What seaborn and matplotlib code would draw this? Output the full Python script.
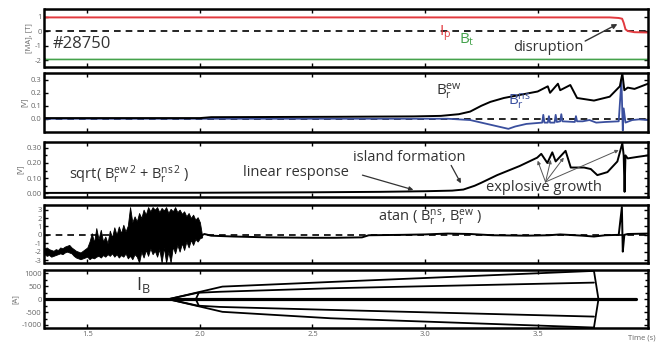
import matplotlib
matplotlib.use("Agg")
import matplotlib.pyplot as plt
import seaborn as sns
import pandas as pd
from matplotlib.ticker import MultipleLocator

# ---------------- data ----------------
ip_t = [1.31, 3.82, 3.86, 3.875, 3.882, 3.89, 3.90, 3.93, 3.99]
ip_v = [0.97, 0.97, 0.93, 0.88, 0.60, 0.15, 0.03, -0.05, -0.07]
bt_t = [1.31, 1.315, 3.99]
bt_v = [-1.85, -1.93, -1.93]

ew_t = [1.31, 2.00, 2.05, 2.60, 2.95, 3.07, 3.15, 3.20, 3.25, 3.29, 3.35, 3.41, 3.50,
        3.545, 3.555, 3.59, 3.60, 3.645, 3.675, 3.75, 3.82, 3.865, 3.876, 3.885,
        3.90, 3.93, 3.96, 3.99]
ew_v = [0.005, 0.005, 0.012, 0.015, 0.018, 0.022, 0.035, 0.055, 0.10, 0.13, 0.16, 0.18, 0.21,
        0.25, 0.20, 0.27, 0.22, 0.26, 0.16, 0.14, 0.17, 0.25, 0.35, 0.22,
        0.24, 0.23, 0.25, 0.27]
ns_t = [1.31, 3.10, 3.20, 3.30, 3.37, 3.40, 3.45, 3.52, 3.525, 3.53, 3.545, 3.55, 3.555,
        3.575, 3.58, 3.585, 3.60, 3.605, 3.61, 3.665, 3.67, 3.675, 3.70, 3.73, 3.76,
        3.80, 3.86, 3.872, 3.878, 3.882, 3.89, 3.92, 3.95, 3.99]
ns_v = [0.0, 0.0, -0.01, -0.05, -0.078, -0.06, -0.04, -0.03, 0.03, -0.03, -0.03, 0.02, -0.03,
        -0.03, 0.03, -0.025, -0.02, 0.035, -0.02, -0.025, 0.02, -0.02, -0.02, -0.01, -0.03,
        -0.025, -0.02, 0.30, -0.09, 0.08, -0.03, -0.01, -0.005, -0.01]

amp_t = [1.31, 2.00, 2.50, 2.80, 3.00, 3.12, 3.17, 3.22, 3.25, 3.32, 3.42, 3.498, 3.516,
         3.543, 3.565, 3.58, 3.624, 3.647, 3.706, 3.736, 3.765, 3.81, 3.854, 3.876,
         3.882, 3.886, 3.890, 3.90, 3.943, 3.99]
amp_v = [0.003, 0.004, 0.007, 0.010, 0.014, 0.018, 0.025, 0.05, 0.07, 0.12, 0.18, 0.235, 0.26,
         0.20, 0.27, 0.21, 0.28, 0.17, 0.17, 0.16, 0.12, 0.14, 0.21, 0.33,
         0.25, 0.01, 0.25, 0.23, 0.24, 0.25]

# noisy phase before 2.0 s: envelope (low / high) of the signal
ph_noise_t = [1.31, 1.32, 1.33, 1.34, 1.35, 1.36, 1.37, 1.38, 1.39, 1.40,
              1.41, 1.42, 1.43, 1.44, 1.45, 1.46, 1.47, 1.48, 1.49, 1.50,
              1.51, 1.52, 1.53, 1.54, 1.55, 1.56, 1.57, 1.58, 1.59, 1.60,
              1.61, 1.62, 1.63, 1.64, 1.65, 1.66, 1.67, 1.68, 1.69, 1.70,
              1.71, 1.72, 1.73, 1.74, 1.75, 1.76, 1.77, 1.78, 1.79, 1.80,
              1.81, 1.82, 1.83, 1.84, 1.85, 1.86, 1.87, 1.88, 1.89, 1.90,
              1.91, 1.92, 1.93, 1.94, 1.95, 1.96, 1.97, 1.98, 1.99, 2.00, 2.01]
ph_noise_lo = [-2.3, -2.5, -2.4, -2.6, -2.5, -2.4, -2.3, -2.2, -2.3, -2.1,
               -2.0, -2.1, -2.2, -2.5, -2.7, -2.8, -2.9, -2.8, -2.7, -2.6,
               -2.9, -2.7, -2.8, -2.6, -2.5, -2.7, -2.4, -2.6, -2.3, -2.5,
               -2.2, -2.6, -2.3, -2.7, -2.4, -2.6, -2.2, -2.8, -2.5, -2.9,
               -2.3, -2.6, -3.3, -2.0, -2.7, -1.8, -2.5, -1.6, -2.3, -1.9,
               -2.6, -1.7, -3.3, -1.5, -3.3, -2.0, -3.3, -1.4, -2.2, -1.2,
               -2.0, -1.0, -1.8, -0.8, -1.5, -0.6, -1.2, -0.5, -0.8, -0.4, -0.3]
ph_noise_hi = [-1.6, -1.5, -1.7, -1.8, -1.9, -1.7, -1.8, -1.5, -1.6, -1.4,
               -1.3, -1.2, -1.5, -1.7, -1.9, -2.0, -2.1, -1.9, -1.7, -1.5,
               -0.8, 0.2, -0.9, 0.8, -0.5, 0.6, -0.8, -0.2, -1.0, 0.5,
               -0.3, 0.9, 0.0, 1.0, 0.2, 1.2, 0.4, 1.1, 3.3, 1.5,
               2.2, 1.6, 2.6, 2.0, 3.0, 2.4, 3.3, 2.8, 3.3, 3.0,
               3.3, 2.7, 3.2, 2.9, 3.3, 2.6, 3.1, 2.8, 3.3, 2.7,
               3.0, 2.5, 2.8, 2.2, 2.6, 2.0, 2.4, 1.8, 2.1, 1.5, -0.1]
ph_t = [2.00, 2.02, 2.05, 2.15, 2.30, 2.50, 2.60, 2.72, 2.75, 2.90, 3.00, 3.10, 3.20, 3.30,
        3.45, 3.55, 3.60, 3.70, 3.75, 3.80, 3.86, 3.874, 3.878, 3.885, 3.90, 3.99]
ph_v = [-0.2, 0.1, -0.1, -0.2, -0.3, -0.35, -0.35, -0.3, -0.05, 0.0, 0.05, 0.15, 0.1, -0.05,
        -0.1, -0.05, 0.05, -0.1, -0.2, -0.05, 0.0, 3.3, -2.0, 0.0, 0.1, 0.15]

ib_zero_t = [1.31, 3.935]
ib_zero_v = [0, 0]
ib_outer_top_t = [1.86, 2.10, 2.58, 3.75]
ib_outer_top_v = [0, 490, 670, 1100]
ib_inner_top_t = [1.86, 1.99, 2.09, 2.58, 3.75]
ib_inner_top_v = [0, 250, 290, 425, 645]
ib_inner_bot_t = [1.86, 1.99, 2.09, 2.58, 3.75]
ib_inner_bot_v = [0, -250, -300, -415, -675]
ib_outer_bot_t = [1.86, 2.10, 2.58, 3.75]
ib_outer_bot_v = [0, -490, -740, -1100]
ib_bracket_t = [1.995, 1.982, 1.995]
ib_bracket_v = [250, 0, -250]
ib_end_t = [3.75, 3.77, 3.75]
ib_end_v = [1100, 0, -1100]

xticks = [1.5, 2.0, 2.5, 3.0, 3.5]
xticklabels = ["1.5", "2.0", "2.5", "3.0", "3.5"]

# ---------------- style ----------------
sns.set_theme(style="ticks")
plt.rcParams["font.family"] = ["Open Sans", "DejaVu Sans"]
plt.rcParams["axes.unicode_minus"] = False
plt.rcParams["mathtext.fontset"] = "custom"
plt.rcParams["mathtext.rm"] = "Open Sans"

RED = "#e23a3f"
GREEN = "#45a24c"
BLUE = "#3a4f9e"
TXT = "#333333"
TICKC = "#666666"

fig = plt.figure(figsize=(6.59, 3.43), dpi=100)
L, W = 44.5 / 659, (648 - 44.5) / 659
rows = [(9, 67), (72.7, 131.7), (141.7, 196.7), (205, 263), (270, 328.3)]
axes = []
for top, bot in rows:
    axes.append(fig.add_axes([L, 1 - bot / 343, W, (bot - top) / 343]))

def line(ax, t, v, color="black", lw=1.3, ls="-"):
    df = pd.DataFrame({"t": t, "v": v})
    sns.lineplot(data=df, x="t", y="v", ax=ax, color=color, lw=lw, ls=ls,
                 sort=False, estimator=None, legend=False)

ax1, ax2, ax3, ax4, ax5 = axes

# panel 1
ax1.axhline(0, color="black", ls=(0, (4, 3)), lw=1.2)
line(ax1, ip_t, ip_v, RED, 1.4)
line(ax1, bt_t, bt_v, GREEN, 1.2)
ax1.set_ylim(-2.45, 1.55)
ax1.set_yticks([1, 0, -1, -2])
ax1.set_ylabel("[MA], [T]")
ax1.text(1.345, -0.85, "#28750", fontsize=12, color=TXT, va="center")
ax1.text(3.062, -0.15, "$\\mathregular{I_p}$", fontsize=11, color=RED, va="center")
ax1.text(3.15, -0.6, "$\\mathregular{B_t}$", fontsize=11, color=GREEN, va="center")
ax1.text(3.39, -1.1, "disruption", fontsize=10.5, color=TXT, va="center")
ax1.annotate("", xy=(3.865, 0.6), xytext=(3.70, -0.75),
             arrowprops=dict(arrowstyle="-|>", color="#333333", lw=1.0, mutation_scale=7))

# panel 2
ax2.axhline(0, color="black", ls=(0, (4, 3)), lw=1.2)
line(ax2, ns_t, ns_v, BLUE, 1.3)
line(ax2, ew_t, ew_v, "black", 1.4)
ax2.set_ylim(-0.1, 0.355)
ax2.set_yticks([0.0, 0.1, 0.2, 0.3])
ax2.set_yticklabels(["0.0", "0.1", "0.2", "0.3"])
ax2.set_ylabel("[V]")
ax2.text(3.05, 0.21, "$\\mathregular{B_r^{ew}}$", fontsize=11, color=TXT, va="center")
ax2.text(3.37, 0.13, "$\\mathregular{B_r^{ns}}$", fontsize=11, color=BLUE, va="center")

# panel 3
line(ax3, amp_t, amp_v, "black", 1.4)
ax3.set_ylim(-0.022, 0.34)
ax3.set_yticks([0.0, 0.1, 0.2, 0.3])
ax3.set_yticklabels(["0.00", "0.10", "0.20", "0.30"])
ax3.yaxis.set_minor_locator(MultipleLocator(0.05))
ax3.set_ylabel("[V]")
ax3.text(1.42, 0.12, "sqrt( $\\mathregular{B_r^{ew\\,2}}$ + $\\mathregular{B_r^{ns\\,2}}$ )",
         fontsize=10.5, color=TXT, va="center")
ax3.text(2.19, 0.135, "linear response", fontsize=10.5, color=TXT, va="center")
ax3.annotate("", xy=(2.96, 0.018), xytext=(2.71, 0.125),
             arrowprops=dict(arrowstyle="-|>", color="#333333", lw=0.9, mutation_scale=6))
ax3.text(2.68, 0.235, "island formation", fontsize=10.5, color=TXT, va="center")
ax3.annotate("", xy=(3.165, 0.05), xytext=(3.11, 0.2),
             arrowprops=dict(arrowstyle="-|>", color="#333333", lw=0.9, mutation_scale=6))
ax3.text(3.27, 0.04, "explosive growth", fontsize=10.5, color=TXT, va="center")
for tx, ty in [(3.50, 0.215), (3.558, 0.22), (3.616, 0.235), (3.86, 0.285)]:
    ax3.annotate("", xy=(tx, ty), xytext=(3.535, 0.075),
                 arrowprops=dict(arrowstyle="-|>", color="#555555", lw=0.7,
                                 mutation_scale=5, shrinkA=0, shrinkB=0))

# panel 4
ax4.axhline(0, color="black", ls=(0, (4, 3)), lw=1.2)
ax4.fill_between(ph_noise_t, ph_noise_lo, ph_noise_hi, color="black", lw=0.6)
line(ax4, ph_t, ph_v, "black", 1.4)
ax4.set_ylim(-3.35, 3.55)
ax4.set_yticks([3, 2, 1, 0, -1, -2, -3])
ax4.set_ylabel("")
ax4.text(2.79, 2.0, "atan ( $\\mathregular{B_r^{ns}}$, $\\mathregular{B_r^{ew}}$ )",
         fontsize=10.5, color=TXT, va="center")

# panel 5
for t, v in [(ib_outer_top_t, ib_outer_top_v), (ib_inner_top_t, ib_inner_top_v),
             (ib_inner_bot_t, ib_inner_bot_v), (ib_outer_bot_t, ib_outer_bot_v),
             (ib_bracket_t, ib_bracket_v), (ib_end_t, ib_end_v)]:
    line(ax5, t, v, "black", 1.3)
line(ax5, ib_zero_t, ib_zero_v, "black", 2.3)
ax5.set_ylim(-1130, 1135)
ax5.set_yticks([1000, 500, 0, -500, -1000])
ax5.yaxis.set_minor_locator(MultipleLocator(250))
ax5.set_ylabel("[A]")
ax5.text(1.715, 560, "$\\mathregular{I_B}$", fontsize=13, color=TXT, va="center")

for ax in axes:
    ax.set_xlim(1.31, 3.99)
    ax.set_xticks(xticks)
    ax.set_xlabel("")
    for s in ax.spines.values():
        s.set_linewidth(1.8)
        s.set_color("black")
        s.set_visible(True)
    ax.tick_params(axis="both", which="both", direction="in", top=True, right=True,
                   labelsize=5.5, labelcolor=TICKC, color="black", width=1.0, length=3,
                   pad=2)
    ax.tick_params(axis="both", which="minor", length=2)
    ax.yaxis.label.set_size(5.5)
    ax.yaxis.label.set_color(TICKC)
    ax.yaxis.labelpad = 2
    if ax is not ax5:
        ax.set_xticklabels([])
ax5.set_xticklabels(xticklabels)
fig.align_ylabels(axes)
fig.text(642 / 659, 1 - 338 / 343, "Time (s)", fontsize=5.5, color=TICKC,
         ha="center", va="center")

fig.savefig("out.png", dpi=100)
